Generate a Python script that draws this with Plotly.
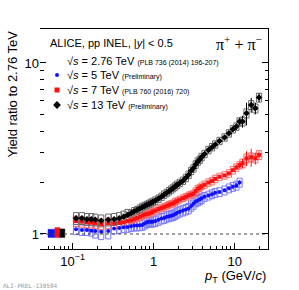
import math
import plotly.graph_objects as go

# ---------------- data ----------------
pt = [0.11, 0.13, 0.15, 0.17, 0.19, 0.225, 0.275, 0.325, 0.375, 0.425, 0.475,
      0.525, 0.575, 0.625, 0.675, 0.725, 0.775, 0.825, 0.875, 0.925, 0.975,
      1.05, 1.15, 1.25, 1.35, 1.45, 1.55, 1.65, 1.75, 1.85, 1.95,
      2.1, 2.3, 2.5, 2.7, 2.9, 3.1, 3.3, 3.5, 3.7, 3.9,
      4.25, 4.75, 5.25, 5.75, 6.5, 7.5, 8.5, 9.5, 10.5, 11.5,
      12.5, 14, 16, 18, 20]

ratio_13 = [1.235, 1.235, 1.22, 1.22, 1.21, 1.196, 1.21, 1.22, 1.235, 1.26, 1.29,
            1.32, 1.36, 1.38, 1.41, 1.44, 1.46, 1.48, 1.50, 1.52, 1.54,
            1.57, 1.61, 1.65, 1.70, 1.74, 1.78, 1.82, 1.86, 1.90, 1.94,
            1.99, 2.05, 2.13, 2.22, 2.34, 2.42, 2.55, 2.65, 2.72, 2.82,
            2.94, 3.10, 3.22, 3.34, 3.50, 3.67, 3.88, 4.10, 4.25, 4.55,
            4.55, 5.08, 5.68, 5.43, 6.28]

ratio_7 = [1.19, 1.18, 1.17, 1.165, 1.155, 1.14, 1.155, 1.155, 1.165, 1.17, 1.19,
           1.20, 1.22, 1.24, 1.26, 1.28, 1.30, 1.31, 1.32, 1.33, 1.35,
           1.37, 1.40, 1.42, 1.44, 1.46, 1.48, 1.50, 1.51, 1.54, 1.56,
           1.59, 1.62, 1.65, 1.68, 1.70, 1.72, 1.78, 1.84, 1.86, 1.90,
           1.94, 2.00, 2.04, 2.10, 2.16, 2.20, 2.26, 2.36, 2.45, 2.53,
           2.59, 2.77, 2.81, 2.77, 2.90]

pt_5 = pt[:51]
ratio_5 = [1.065, 1.055, 1.055, 1.045, 1.04, 1.03, 1.04, 1.075, 1.085, 1.095, 1.10,
           1.11, 1.12, 1.12, 1.125, 1.13, 1.15, 1.17, 1.18, 1.18, 1.18,
           1.19, 1.21, 1.23, 1.24, 1.26, 1.27, 1.28, 1.29, 1.31, 1.33,
           1.35, 1.37, 1.39, 1.41, 1.46, 1.50, 1.55, 1.57, 1.59, 1.62,
           1.65, 1.68, 1.71, 1.74, 1.76, 1.80, 1.85, 1.89, 1.92, 2.00]

# relative systematic uncertainties (boxes)
sys_13 = [0.08] * 11 + [0.05] * 30 + [0.05] * 10 + [0.06] * 5
sys_7 = [0.07] * 11 + [0.045] * 30 + [0.05] * 10 + [0.06] * 5
sys_5 = [0.07, 0.07, 0.07, 0.07, 0.09, 0.10, 0.10, 0.07, 0.07, 0.07, 0.07] + [0.07] * 30 + [0.06] * 10

# relative statistical uncertainties (bars)
stat_13 = [0.01] * 46 + [0.02, 0.02, 0.03, 0.04, 0.05, 0.08, 0.15, 0.10, 0.08, 0.06]
stat_7 = [0.01] * 46 + [0.02, 0.02, 0.02, 0.03, 0.04, 0.06, 0.10, 0.12, 0.08, 0.05]
stat_5 = [0.01] * 46 + [0.02, 0.02, 0.02, 0.03, 0.03]

# normalisation uncertainty boxes at ratio = 1
norm_pt_lo = [0.0496, 0.0604, 0.0697]
norm_pt_hi = [0.0604, 0.0697, 0.0800]
norm_lo = [0.955, 0.955, 0.955]
norm_hi = [1.065, 1.09, 1.07]

# ---------------- style ----------------
W, H = 299, 290
L, R, T, B = 40, 31, 29, 41
XR = [math.log10(0.0395), math.log10(25.8)]
YR = [math.log10(0.817), math.log10(15.8)]
FONT = "Liberation Sans"
C5, C7, C13 = "#1010ff", "#ff1010", "#000000"
BOX5, BOX7, BOX13 = "#7878ff", "#ff6a6a", "#6a6a6a"
HW = 0.032  # half-width of systematic boxes in decades


def boxes(xs, ys, rel):
    bx, by = [], []
    for x, y, s in zip(xs, ys, rel):
        x0, x1 = x * 10 ** (-HW), x * 10 ** HW
        y0, y1 = y * (1 - s), y * (1 + s)
        bx += [x0, x1, x1, x0, x0, None]
        by += [y0, y0, y1, y1, y0, None]
    return bx, by


fig = go.Figure()

# dotted reference line at 1
fig.add_trace(go.Scatter(x=[10 ** XR[0], 10 ** XR[1]], y=[1, 1], mode="lines",
                         line=dict(color="#444", width=1, dash="dot"),
                         hoverinfo="skip", showlegend=False, yaxis="y2"))

# normalisation boxes
for i, col in enumerate([C5, C7, C13]):
    fig.add_trace(go.Scatter(
        x=[norm_pt_lo[i], norm_pt_hi[i], norm_pt_hi[i], norm_pt_lo[i], norm_pt_lo[i]],
        y=[norm_lo[i], norm_lo[i], norm_hi[i], norm_hi[i], norm_lo[i]],
        mode="lines", fill="toself", fillcolor=col, line=dict(color=col, width=0.5),
        hoverinfo="skip", showlegend=False))

# systematic boxes
for xs, ys, rel, col in [(pt_5, ratio_5, sys_5, BOX5), (pt, ratio_7, sys_7, BOX7),
                         (pt, ratio_13, sys_13, BOX13)]:
    bx, by = boxes(xs, ys, rel)
    fig.add_trace(go.Scatter(x=bx, y=by, mode="lines", line=dict(color=col, width=1),
                             hoverinfo="skip", showlegend=False, cliponaxis=True))

# points
for xs, ys, st, col, sym, sz in [(pt_5, ratio_5, stat_5, C5, "circle", 4),
                                 (pt, ratio_7, stat_7, C7, "square", 4),
                                 (pt, ratio_13, stat_13, C13, "diamond", 5)]:
    fig.add_trace(go.Scatter(
        x=xs, y=ys, mode="markers",
        marker=dict(color=col, symbol=sym, size=sz, line=dict(width=0)),
        error_y=dict(type="data", array=[v * e for v, e in zip(ys, st)],
                     color=col, thickness=1, width=0),
        showlegend=False))

# legend markers on an overlay axis in pixel units
leg_y = [75, 90, 105]
for yy, col, sym, sz in zip(leg_y, [C5, C7, C13], ["circle", "square", "diamond"], [4, 5, 6]):
    fig.add_trace(go.Scatter(x=[57], y=[yy], mode="markers", xaxis="x2", yaxis="y3",
                             marker=dict(color=col, symbol=sym, size=sz),
                             showlegend=False, hoverinfo="skip", cliponaxis=False))


def P(x, y):
    return (x - L) / (W - L - R), (H - B - y) / (H - T - B)


ann = []


def add_text(text, x, y, size, xanchor="left", yanchor="middle", angle=0,
             color="#000", family=FONT):
    px, py = P(x, y)
    ann.append(dict(text=text, x=px, y=py, xref="paper", yref="paper",
                    xanchor=xanchor, yanchor=yanchor, showarrow=False,
                    textangle=angle, font=dict(size=size, color=color, family=family)))


small = "<span style='font-size:7px'>%s</span>"
add_text("ALICE, pp INEL, |<i>y</i>| &lt; 0.5", 48, 43, 11)
add_text("π<sup>+</sup> + π<sup>−</sup>", 264, 43, 16, xanchor="right",
         family="Liberation Serif")
add_text("√<i>s</i> = 2.76 TeV " + small % "(PLB 736 (2014) 196-207)", 65, 61, 11)
add_text("√<i>s</i> = 5 TeV " + small % "(Preliminary)", 65, 75, 11)
add_text("√<i>s</i> = 7 TeV " + small % "(PLB 760 (2016) 720)", 65, 90, 11)
add_text("√<i>s</i> = 13 TeV " + small % "(Preliminary)", 65, 105, 11)
add_text("Yield ratio to 2.76 TeV", 12, 29, 13, xanchor="center", yanchor="top", angle=-90)
add_text("<i>p</i><sub>T</sub> (GeV/<i>c</i>)", 268, 276, 13, xanchor="right")
add_text("ALI-PREL-130584", 1, 285, 6, color="#999", family="DejaVu Sans Mono")

x_major = [0.1, 1, 10]
x_major_text = ["10<sup>−1</sup>", "1", "10"]
x_minor = [0.05, 0.06, 0.07, 0.08, 0.09, 0.2, 0.3, 0.4, 0.5, 0.6, 0.7, 0.8, 0.9,
           2, 3, 4, 5, 6, 7, 8, 9, 20]
y_major = [1, 10]
y_major_text = ["1", "10"]
y_minor = [2, 3, 4, 5, 6, 7, 8, 9]

fig.update_layout(
    width=W, height=H, margin=dict(l=L, r=R, t=T, b=B),
    paper_bgcolor="white", plot_bgcolor="white",
    font=dict(family=FONT, color="#000"),
    annotations=ann, showlegend=False,
    xaxis=dict(type="log", range=XR, showgrid=False, zeroline=False,
               showline=True, mirror=True, linecolor="#000", linewidth=1,
               ticks="inside", ticklen=6, tickcolor="#000",
               tickmode="array", tickvals=x_major, ticktext=x_major_text,
               tickfont=dict(size=13), ticklabelstandoff=0,
               minor=dict(tickmode="array", tickvals=x_minor, ticks="inside",
                          ticklen=3, tickcolor="#000", showgrid=False)),
    yaxis=dict(type="log", range=YR, showgrid=False, zeroline=False, showline=False,
               ticks="inside", ticklen=6, tickcolor="#000",
               tickmode="array", tickvals=y_major, ticktext=y_major_text,
               tickfont=dict(size=13),
               minor=dict(tickmode="array", tickvals=y_minor, ticks="inside",
                          ticklen=4, tickcolor="#000", showgrid=False)),
    yaxis2=dict(type="log", range=YR, overlaying="y", side="right", showgrid=False,
                zeroline=False, showline=True, linecolor="#000", linewidth=1,
                ticks="inside", ticklen=6, tickcolor="#000",
                tickmode="array", tickvals=y_major, showticklabels=False,
                minor=dict(tickmode="array", tickvals=y_minor, ticks="inside",
                           ticklen=3, tickcolor="#000", showgrid=False)),
    xaxis2=dict(range=[L, W - R], overlaying="x", visible=False),
    yaxis3=dict(range=[H - B, T], overlaying="y", visible=False),
)

fig.write_html("out.html", config={"displayModeBar": False},
               post_script="document.body.style.margin='0';document.body.style.overflow='hidden';")
